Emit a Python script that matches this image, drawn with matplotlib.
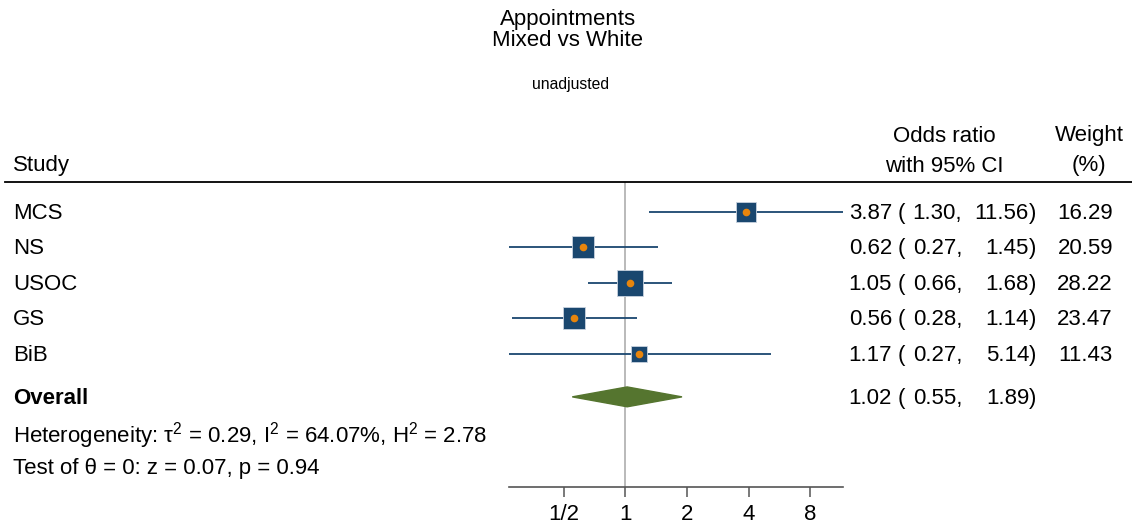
import matplotlib.pyplot as plt
from matplotlib.transforms import blended_transform_factory
from matplotlib.patches import Polygon

plt.rcParams['font.family'] = ['Liberation Sans', 'DejaVu Sans']

studies = ['MCS', 'NS', 'USOC', 'GS', 'BiB']
odds = [3.87, 0.62, 1.05, 0.56, 1.17]
lower = [1.30, 0.27, 0.66, 0.28, 0.27]
upper = [11.56, 1.45, 1.68, 1.14, 5.14]
weights = [16.29, 20.59, 28.22, 23.47, 11.43]
overall = (1.02, 0.55, 1.89)
ticks = [0.5, 1, 2, 4, 8]
tick_labels = ['1/2', '1', '2', '4', '8']

navy = '#1a476f'
orange = '#e8850c'
green = '#55752f'
fs = 16

W, H = 1132, 527
fig = plt.figure(figsize=(W / 100, H / 100), dpi=100)

# plot area in pixels: x 509..843, y 182..487
ax = fig.add_axes([509 / W, 1 - 487 / H, (843 - 509) / W, (487 - 182) / H])
ax.set_xscale('log', base=2)
ax.set_xlim(min(lower), max(upper))
ax.set_ylim(8.75, 0.155)

rows = list(range(1, len(studies) + 1))
y_over = 6.21

for y, o, lo, hi, w in zip(rows, odds, lower, upper, weights):
    ax.plot([lo, hi], [y, y], color=navy, lw=1.3, solid_capstyle='butt', zorder=2)
    ax.plot(o, y, marker='s', ms=3.39 * w ** 0.5, color=navy,
            mec='#c8d3df', mew=0.6, zorder=3)
    ax.plot(o, y, marker='o', ms=5.5, color=orange, mec='none', zorder=4)

est, lo, hi = overall
h = 0.28
ax.add_patch(Polygon([(lo, y_over), (est, y_over - h), (hi, y_over), (est, y_over + h)],
                     closed=True, color=green, zorder=3))

ax.axvline(1, color='#b4b4b4', lw=1.3, zorder=1)

for s in ['top', 'right', 'left']:
    ax.spines[s].set_visible(False)
ax.spines['bottom'].set_color('#555555')
ax.spines['bottom'].set_linewidth(1.2)
ax.set_yticks([])
ax.set_xticks(ticks)
ax.set_xticklabels(tick_labels, fontsize=fs)
ax.minorticks_off()
ax.tick_params(axis='x', length=7, width=1.1, color='#555555', pad=5)

tr = blended_transform_factory(fig.transFigure, ax.transData)

def fx(px):
    return px / W

# header
fig.text(fx(568), 1 - 19 / H, 'Appointments', ha='center', va='center', fontsize=fs)
fig.text(fx(568), 1 - 41 / H, 'Mixed vs White', ha='center', va='center', fontsize=fs)
fig.text(fx(571), 1 - 85 / H, 'unadjusted', ha='center', va='center', fontsize=11.3)
fig.text(fx(13), 1 - 166 / H, 'Study', ha='left', va='center', fontsize=fs)
fig.text(fx(944), 1 - 136 / H, 'Odds ratio', ha='center', va='center', fontsize=fs)
fig.text(fx(944), 1 - 166 / H, 'with 95% CI', ha='center', va='center', fontsize=fs)
fig.text(fx(1089), 1 - 136 / H, 'Weight', ha='center', va='center', fontsize=fs)
fig.text(fx(1089), 1 - 166 / H, '(%)', ha='center', va='center', fontsize=fs)
fig.add_artist(plt.Line2D([fx(5), 1.0], [1 - 182 / H, 1 - 182 / H], color='black', lw=1.3))

def ci_text(y, o, l, u):
    ax.text(fx(892), y, f'{o:.2f}', transform=tr, ha='right', va='center', fontsize=fs)
    ax.text(fx(898), y, '(', transform=tr, ha='left', va='center', fontsize=fs)
    ax.text(fx(962), y, f'{l:.2f},', transform=tr, ha='right', va='center', fontsize=fs)
    ax.text(fx(1029), y, f'{u:.2f}', transform=tr, ha='right', va='center', fontsize=fs)
    ax.text(fx(1029), y, ')', transform=tr, ha='left', va='center', fontsize=fs)

for y, name, o, l, u, w in zip(rows, studies, odds, lower, upper, weights):
    yt = y + 0.04
    ax.text(fx(13), yt, name, transform=tr, ha='left', va='center', fontsize=fs)
    ci_text(yt, o, l, u)
    ax.text(fx(1113), yt, f'{w:.2f}', transform=tr, ha='right', va='center', fontsize=fs)

ax.text(fx(13), y_over + 0.05, 'Overall', transform=tr, ha='left', va='center',
        fontsize=fs, fontweight='bold')
ci_text(y_over + 0.05, *overall)
ax.text(fx(13), 7.3, 'Heterogeneity: $\\mathregular{\u03c4^2}$ = 0.29, $\\mathregular{I^2}$ = 64.07%, '
        '$\\mathregular{H^2}$ = 2.78',
        transform=tr, ha='left', va='center', fontsize=fs)
ax.text(fx(13), 8.23, 'Test of \u03b8 = 0: z = 0.07, p = 0.94',
        transform=tr, ha='left', va='center', fontsize=fs)

fig.savefig('out.png', dpi=100)
